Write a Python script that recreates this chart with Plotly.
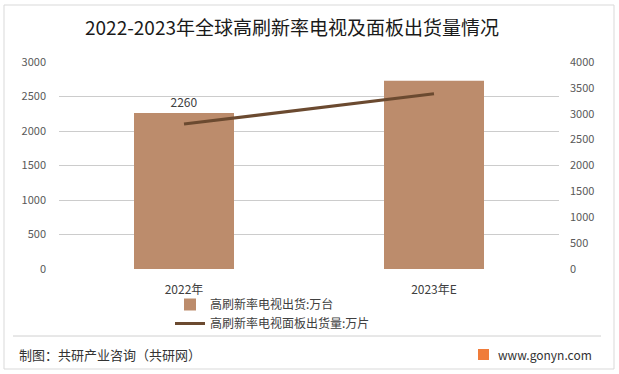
import plotly.graph_objects as go

categories = ["2022年", "2023年E"]
tv_shipments = [2260, 2730]        # 高刷新率电视出货:万台 (left axis)
panel_shipments = [2800, 3385]     # 高刷新率电视面板出货量:万片 (right axis)
bar_labels = ["2260", ""]
left_ticks = [0, 500, 1000, 1500, 2000, 2500, 3000]
right_ticks = [0, 500, 1000, 1500, 2000, 2500, 3000, 3500, 4000]

FONT = "Noto Sans CJK SC, Microsoft YaHei, sans-serif"
BAR_C = "#BC8C6C"
LINE_C = "#6B4A30"

fig = go.Figure()
fig.add_trace(go.Bar(
    x=categories, y=tv_shipments, name="高刷新率电视出货:万台",
    marker=dict(color=BAR_C, line=dict(width=0)),
    text=bar_labels, textposition="outside", cliponaxis=False,
    textfont=dict(size=12, color="#404040", family=FONT),
    yaxis="y",
))
fig.add_trace(go.Scatter(
    x=categories, y=panel_shipments, name="高刷新率电视面板出货量:万片",
    mode="lines", line=dict(color=LINE_C, width=3),
    yaxis="y2",
))

W, H = 619, 374
L, R, T, B = 59, 60, 62, 105
pw, ph = W - L - R, H - T - B

def px(x):
    return (x - L) / pw

def py(y):
    return (H - B - y) / ph

fig.update_layout(
    width=W, height=H,
    margin=dict(l=L, r=R, t=T, b=B),
    paper_bgcolor="white", plot_bgcolor="white",
    font=dict(family=FONT, color="#595959", size=11),
    bargap=0.6,
    showlegend=True,
    legend=dict(
        x=px(170), y=py(290), xanchor="left", yanchor="top",
        orientation="v", font=dict(size=12, color="#404040", family=FONT),
        bgcolor="rgba(0,0,0,0)", tracegroupgap=0, itemwidth=30,
    ),
    title=dict(
        text="2022-2023年全球高刷新率电视及面板出货量情况",
        x=292 / W, xanchor="center",
        y=1 - 28 / H, yanchor="middle",
        font=dict(size=19, color="#1a1a1a", family=FONT),
    ),
    xaxis=dict(
        showgrid=False, showline=False, ticks="",
        tickfont=dict(size=12, color="#404040"),
        ticklabelstandoff=12,
    ),
    yaxis=dict(
        range=[0, 3000], tickvals=left_ticks,
        showgrid=True, gridcolor="#cccccc", gridwidth=1,
        zeroline=False, showline=False, ticks="",
        ticklabelstandoff=12,
        tickfont=dict(size=11, color="#595959"),
    ),
    yaxis2=dict(
        range=[0, 4000], tickvals=right_ticks,
        overlaying="y", side="right",
        showgrid=False, zeroline=False, showline=False, ticks="",
        ticklabelstandoff=10,
        tickfont=dict(size=11, color="#595959"),
    ),
)

shapes = [
    dict(type="rect", xref="paper", yref="paper",
         x0=px(4), x1=px(614), y0=py(369), y1=py(5),
         line=dict(color="#d9d9d9", width=1), fillcolor="rgba(0,0,0,0)", layer="below"),
    dict(type="line", xref="paper", yref="paper",
         x0=px(13), x1=px(601), y0=py(336), y1=py(336),
         line=dict(color="#d0d0d0", width=1)),
    dict(type="rect", xref="paper", yref="paper",
         x0=px(478), x1=px(489), y0=py(360), y1=py(349),
         line=dict(width=0), fillcolor="#F07C3A"),
]
fig.update_layout(shapes=shapes)

fig.add_annotation(
    xref="paper", yref="paper", x=px(17), y=py(354), xanchor="left", yanchor="middle",
    text="制图：共研产业咨询（共研网）", showarrow=False,
    font=dict(size=13, color="#333333", family=FONT),
)
fig.add_annotation(
    xref="paper", yref="paper", x=px(496), y=py(354), xanchor="left", yanchor="middle",
    text="www.gonyn.com", showarrow=False,
    font=dict(size=12, color="#333333", family=FONT),
)

fig.write_html(
    "out.html",
    config={"displayModeBar": False},
    post_script="document.body.style.margin='0';document.body.style.padding='0';",
)
